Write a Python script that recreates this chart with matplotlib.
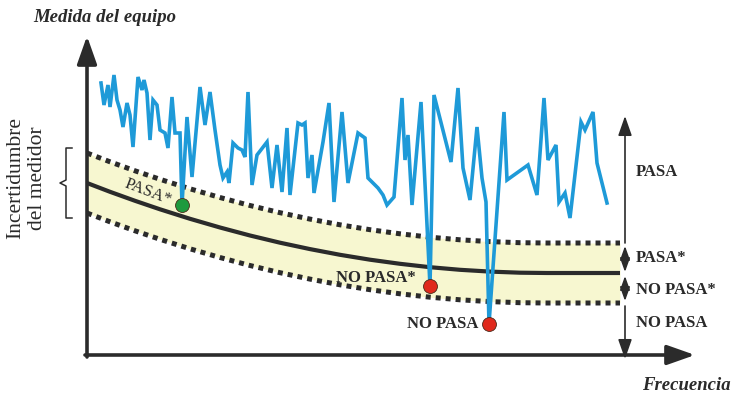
import numpy as np
import matplotlib
matplotlib.use('Agg')
import matplotlib.pyplot as plt

# lecturas del equipo (coordenadas del dibujo, eje y hacia abajo)
frecuencia = [101, 104, 108, 110, 114, 117, 120, 123, 127, 130, 133, 138, 142, 144, 147, 150,
              153, 157, 160, 165, 168, 172, 175, 180, 182, 187, 192, 200, 205, 210, 215, 220,
              223, 227, 229, 233, 238, 242, 245, 248, 252, 257, 267, 272, 277, 282, 287, 290,
              298, 302, 305, 308, 312, 314, 323, 329, 334, 342, 348, 358, 365, 368, 378, 383,
              387, 394, 402, 405, 408, 412, 421, 430, 434, 451, 458, 463, 470, 477, 482, 486,
              489, 504, 507, 528, 537, 544, 548, 556, 559, 565, 570, 581, 585, 593, 597, 607]
medida = [83, 105, 85, 107, 75, 100, 110, 127, 103, 115, 147, 77, 90, 80, 93, 140,
          100, 105, 130, 133, 148, 97, 133, 133, 205, 117, 177, 87, 125, 92, 130, 165,
          178, 172, 183, 143, 148, 150, 157, 92, 185, 155, 142, 188, 145, 192, 128, 195,
          123, 125, 123, 178, 155, 193, 142, 103, 202, 112, 183, 133, 138, 178, 188, 195,
          205, 197, 98, 160, 135, 205, 102, 286, 95, 162, 88, 168, 200, 127, 178, 202,
          324, 112, 180, 165, 195, 98, 160, 145, 202, 193, 218, 122, 130, 112, 163, 203]

# limite nominal
lim_x = [87, 110, 135, 160, 190, 220, 250, 280, 310, 340, 370, 400, 430, 460, 490, 520, 547, 580, 620]
lim_y = [183, 191.8, 200.8, 209.3, 218.8, 227.5, 235.5, 242.7, 249.1, 254.8, 259.7, 263.8,
         267.2, 269.8, 271.6, 272.7, 273, 273, 273]
incertidumbre = 30

# puntos marcados: (indice en la serie, color)
puntos = [(24, '#1e9a3e'), (71, '#e0291c'), (80, '#e0291c')]

etiquetas_der = ['PASA', 'PASA*', 'NO PASA*', 'NO PASA']
etiquetas_y = [172, 258, 290, 323]

serif = 'Liberation Serif'
oscuro = '#2b2b2b'

fig = plt.figure(figsize=(7.33, 3.99), dpi=100)
ax = fig.add_axes([0, 0, 1, 1])
ax.set_xlim(0, 733)
ax.set_ylim(399, 0)
ax.axis('off')

lx = np.array(lim_x)
ly = np.array(lim_y)
ax.fill_between(lx, ly - incertidumbre, ly + incertidumbre, color='#f7f7d0', lw=0, zorder=1)
ax.plot(lx, ly, color=oscuro, lw=3, zorder=3, solid_capstyle='butt')
for s in (-1, 1):
    ax.plot(lx, ly + s * incertidumbre, color=oscuro, lw=3.6,
            linestyle=(0, (1.0, 1.0)), dash_capstyle='butt', zorder=3)

ax.plot(frecuencia, medida, color='#1e9ad8', lw=2.6, zorder=4, solid_joinstyle='miter')
for i, c in puntos:
    ax.plot(frecuencia[i], medida[i], 'o', ms=10, color=c, mec='#4a2a1a', mew=0.6, zorder=5)

# ejes
ax.annotate('', xy=(87, 36), xytext=(87, 357),
            arrowprops=dict(arrowstyle='-|>,head_length=0.85,head_width=0.3', color=oscuro,
                            lw=2.6, mutation_scale=20, shrinkA=0, shrinkB=0))
ax.annotate('', xy=(695, 355), xytext=(85, 355),
            arrowprops=dict(arrowstyle='-|>,head_length=0.85,head_width=0.3', color=oscuro,
                            lw=2.6, mutation_scale=20, shrinkA=0, shrinkB=0))

# flechas de zonas
flecha = dict(color=oscuro, lw=1.2, mutation_scale=12, shrinkA=0, shrinkB=0)
ax.annotate('', xy=(625, 116), xytext=(625, 243),
            arrowprops=dict(arrowstyle='-|>,head_length=1.0,head_width=0.35', **flecha))
ax.annotate('', xy=(625, 246), xytext=(625, 272),
            arrowprops=dict(arrowstyle='<|-|>,head_length=0.7,head_width=0.25', **flecha))
ax.annotate('', xy=(625, 276), xytext=(625, 301),
            arrowprops=dict(arrowstyle='<|-|>,head_length=0.7,head_width=0.25', **flecha))
ax.annotate('', xy=(625, 359), xytext=(625, 306),
            arrowprops=dict(arrowstyle='-|>,head_length=1.0,head_width=0.35', **flecha))

for t, y in zip(etiquetas_der, etiquetas_y):
    ax.text(636, y, t, family=serif, fontsize=12, weight='bold', ha='left', va='center', color='#2a2a2a')

ax.text(148, 192, 'PASA*', family=serif, fontsize=12, rotation=-21, ha='center', va='center', color='#2a2a2a')
ax.text(376, 278, 'NO PASA*', family=serif, fontsize=12, weight='bold', ha='center', va='center', color='#2a2a2a')
ax.text(443, 324, 'NO PASA', family=serif, fontsize=12, weight='bold', ha='center', va='center', color='#2a2a2a')

# llave de incertidumbre
ax.plot([72, 66, 66, 60, 66, 66, 72], [148, 148, 180, 183, 186, 218, 218], color=oscuro, lw=1.1)
ax.text(27, 178, 'Incertidumbre\ndel medidor', family=serif, fontsize=15.5, rotation=90,
        ha='center', va='center', linespacing=1.2, color='#2a2a2a')

ax.text(33, 18, 'Medida del equipo', family=serif, fontsize=13.5, weight='bold', style='italic',
        ha='left', va='center', color='#2a2a2a')
ax.text(642, 386, 'Frecuencia', family=serif, fontsize=13.5, weight='bold', style='italic',
        ha='left', va='center', color='#2a2a2a')

plt.savefig('out.png', dpi=100)
